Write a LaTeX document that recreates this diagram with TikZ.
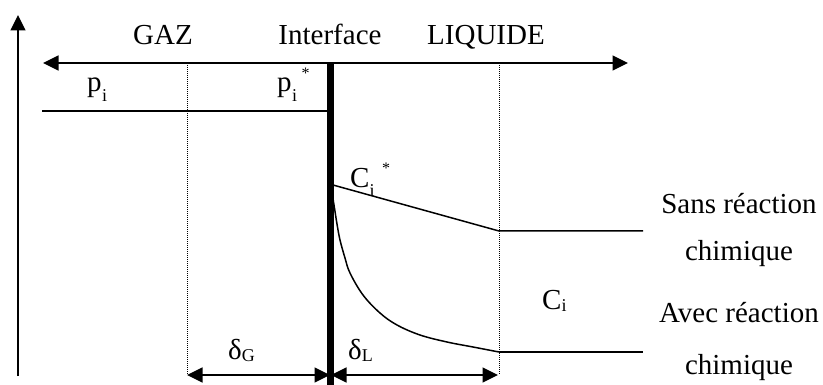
\documentclass[tikz,border=0pt]{standalone}
\usepackage{fontspec}
\setmainfont{Liberation Serif}
\usetikzlibrary{arrows.meta}
\newcommand\mysubf{\fontsize{18}{18}\selectfont}
\newcommand\mysupf{\fontsize{16}{16}\selectfont}
\begin{document}
\begin{tikzpicture}[x=1pt,y=-1pt,
  lbl/.style={inner sep=0pt,font=\fontsize{29}{30}\selectfont},
  thinline/.style={line width=1.5pt},
  dotline/.style={line width=1pt,dash pattern=on 1pt off 1pt},
  tip/.style={-{Triangle[length=15.5pt,width=15pt]}},
  tips/.style={{Triangle[length=15.5pt,width=15pt]}-{Triangle[length=15.5pt,width=15pt]}}]
\useasboundingbox (0,0) rectangle (823,385);
% coordinates
\coordinate (axB) at (18,376);
\coordinate (axT) at (18,15);
\coordinate (hL) at (43,63);
\coordinate (hR) at (628,63);
\coordinate (d1T) at (187,63);
\coordinate (d1B) at (187,375);
\coordinate (d2T) at (499,63);
\coordinate (d2B) at (499,375);
\coordinate (barT) at (330.5,63);
\coordinate (barB) at (330.5,385);
\coordinate (piL) at (42,111);
\coordinate (piR) at (327,111);
\coordinate (sA) at (333,185);
\coordinate (sB) at (499,231);
\coordinate (sC) at (643,231);
\coordinate (aB) at (499,352);
\coordinate (aC) at (643,352);
\coordinate (gL) at (187,375);
\coordinate (gR) at (330,375);
\coordinate (lL) at (331,375);
\coordinate (lR) at (498,375);
% axes
\draw[thinline,tip] (axB) -- (axT);
\draw[thinline,tips] (hL) -- (hR);
% dotted film limits
\draw[dotline] (d1T) -- (d1B);
\draw[dotline] (d2T) -- (d2B);
% gas partial pressure
\draw[thinline] (piL) -- (piR);
% liquid profiles
\draw[thinline] (sA) -- (sB) -- (sC);
\draw[thinline] plot[smooth,tension=0.6] coordinates {(331,186) (334,205) (337,224) (340,240) (345,258) (350,273) (363,295) (380,313) (397,325) (420,335) (447,342) (473,347) (aB)};
\draw[thinline] (aB) -- (aC);
% interface
\draw[line width=7.5pt] (barT) -- (barB);
% film thickness arrows
\draw[thinline,tips] (gL) -- (gR);
\draw[thinline,tips] (lL) -- (lR);
% labels
\node[lbl,anchor=base] (gaz) at (163,45) {GAZ};
\node[lbl,anchor=base] (itf) at (330,45) {Interface};
\node[lbl,anchor=base] (liq) at (486,45) {LIQUIDE};
\node[lbl,anchor=base west] (pi) at (87,92) {p\kern0.5pt\raisebox{-10pt}{\mysubf i}};
\node[lbl,anchor=base west] (pis) at (277,92) {p\kern0.5pt\raisebox{-10pt}{\mysubf i}\kern4.5pt\raisebox{13pt}{\mysupf *}};
\node[lbl,anchor=base west] (cis) at (350,188) {C\raisebox{-9pt}{\mysubf i}\kern7.5pt\raisebox{14pt}{\mysupf *}};
\node[lbl,anchor=base west] (ci) at (542,309) {C\raisebox{-2pt}{\mysubf i}};
\node[lbl,anchor=base west] (dg) at (228,359) {δ\raisebox{-2pt}{\mysubf G}};
\node[lbl,anchor=base west] (dl) at (348,359) {δ\raisebox{-2pt}{\mysubf L}};
\node[lbl,anchor=base] (sans1) at (739,214) {Sans réaction};
\node[lbl,anchor=base] (sans2) at (739,261) {chimique};
\node[lbl,anchor=base] (avec1) at (739,323) {Avec réaction};
\node[lbl,anchor=base] (avec2) at (739,374) {chimique};
\end{tikzpicture}
\end{document}
